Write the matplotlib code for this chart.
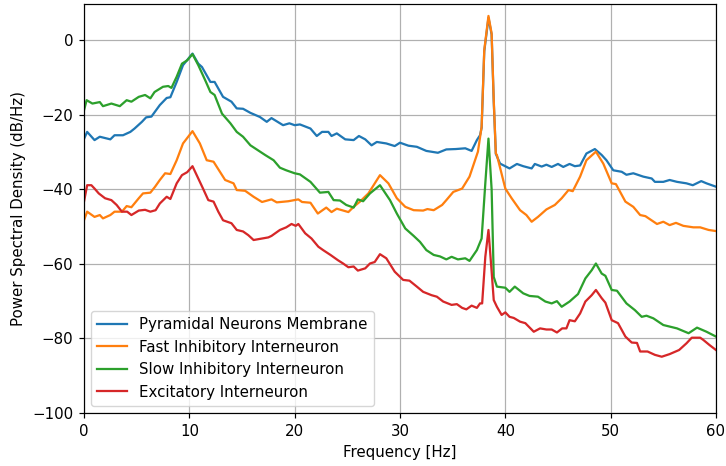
import matplotlib
matplotlib.use("Agg")
import matplotlib.pyplot as plt

# Pyramidal Neurons Membrane
freq_pyr = [0, 0.3, 1.0, 1.5, 2.5, 2.9, 3.7, 4.4, 4.8, 5.5, 5.9, 6.4, 7.2, 7.85, 8.2, 8.8, 9.4, 10.3, 10.85, 11.2,
            12.0, 12.4, 13.2, 14.0, 14.5, 15.1, 15.8, 16.7, 17.35, 17.8, 18.9, 19.5, 20.0, 20.5, 21.5, 22.1, 22.6,
            23.2, 23.5, 24.0, 24.8, 25.6, 26.1, 26.7, 27.3, 27.8, 28.7, 29.5, 30.0, 30.8, 31.6, 32.5, 33.6, 34.4,
            35.3, 36.2, 36.8, 37.3, 37.6, 37.75, 38.0, 38.4, 38.7, 38.9, 39.1, 39.5, 40.4, 41.1, 41.7, 42.5, 42.8,
            43.45, 43.9, 44.4, 45.0, 45.5, 46.1, 46.6, 47.1, 47.7, 48.5, 49.15, 49.6, 50.25, 51.05, 51.5, 52.15,
            53.1, 53.9, 54.2, 55.0, 55.6, 56.3, 57.2, 57.8, 58.6, 59.1, 60]
psd_pyr = [-26.5, -24.6, -26.8, -25.9, -26.6, -25.5, -25.5, -24.6, -23.7, -21.9, -20.7, -20.5, -17.4, -15.5, -15.3,
           -11.2, -6.7, -3.6, -6.3, -7.2, -11.2, -11.2, -15.2, -16.5, -18.3, -18.4, -19.5, -20.6, -21.9, -20.9,
           -22.8, -22.3, -22.8, -22.6, -23.7, -25.7, -24.6, -24.6, -25.7, -25.0, -26.6, -26.8, -25.7, -26.6, -28.2,
           -27.3, -27.7, -28.4, -27.5, -28.3, -28.6, -29.7, -30.2, -29.3, -29.2, -29.0, -29.7, -26.8, -25.5, -23.5,
           -3.0, 6.0, 1.5, -16.5, -30.5, -33.1, -34.4, -33.2, -33.8, -34.4, -33.2, -33.9, -33.4, -34.0, -33.2,
           -34.0, -33.2, -33.8, -33.6, -30.4, -29.2, -30.8, -32.2, -34.9, -35.3, -36.1, -35.7, -36.6, -37.1,
           -38.0, -38.0, -37.5, -38.0, -38.4, -38.9, -37.8, -38.4, -39.3]

# Fast Inhibitory Interneuron
freq_fast = [0, 0.3, 1.0, 1.5, 1.8, 2.5, 2.9, 3.6, 4.05, 4.5, 5.2, 5.6, 6.3, 6.75, 7.2, 7.7, 8.2, 8.8, 9.4, 10.3,
             11.0, 11.65, 12.3, 13.4, 14.2, 14.5, 15.3, 16.1, 16.9, 17.8, 18.3, 19.4, 20.35, 20.7, 21.5, 22.2,
             23.0, 23.5, 24.0, 25.1, 25.6, 26.2, 27.0, 28.1, 28.9, 29.7, 30.5, 31.3, 32.2, 32.6, 33.2, 34.0, 34.4,
             35.06, 35.9, 36.6, 37.4, 37.75, 38.0, 38.4, 38.7, 38.9, 39.1, 39.2, 40.0, 40.6, 41.4, 42.0, 42.5,
             43.1, 43.9, 44.7, 45.35, 46.0, 46.4, 47.1, 47.7, 48.6, 49.3, 50.1, 50.5, 51.4, 52.15, 52.8, 53.3,
             54.4, 55.0, 55.6, 56.2, 56.9, 57.85, 58.5, 59.3, 60]
psd_fast = [-48.3, -46.0, -47.4, -46.9, -47.8, -46.9, -46.0, -46.0, -44.5, -44.8, -42.4, -41.1, -40.9, -39.3, -37.5,
            -35.7, -35.9, -32.2, -27.7, -24.4, -27.7, -32.2, -32.6, -37.5, -38.4, -40.2, -40.4, -42.0, -43.4, -42.7,
            -43.5, -43.2, -42.7, -43.4, -43.6, -46.5, -44.9, -46.1, -45.2, -46.1, -44.7, -43.3, -41.1, -36.2, -38.4,
            -42.4, -44.7, -45.6, -45.7, -45.3, -45.6, -44.2, -42.9, -40.7, -39.8, -36.6, -29.9, -23.2, -2.7, 6.5,
            1.8, -16.0, -30.4, -30.8, -39.8, -42.4, -45.6, -46.9, -48.7, -47.4, -45.4, -44.2, -42.4, -40.2, -40.5,
            -36.6, -32.2, -29.9, -33.1, -38.4, -38.6, -43.3, -44.7, -46.9, -47.2, -49.3, -48.7, -49.6, -49.0,
            -49.8, -50.2, -50.2, -50.9, -51.2]

# Slow Inhibitory Interneuron
freq_slow = [0, 0.25, 0.8, 1.5, 1.8, 2.6, 3.4, 4.05, 4.5, 5.2, 5.8, 6.3, 6.7, 7.5, 8.0, 8.3, 8.8, 9.3, 9.8, 10.3,
             10.85, 11.5, 12.0, 12.4, 13.1, 13.9, 14.5, 15.1, 15.8, 16.5, 17.2, 18.0, 18.6, 19.2, 20.0, 20.5, 21.5,
             22.4, 23.2, 23.7, 24.3, 24.9, 25.6, 26.0, 26.5, 27.15, 28.1, 29.05, 29.7, 30.5, 31.3, 31.9, 32.5,
             33.2, 33.8, 34.4, 34.9, 35.5, 36.2, 36.6, 37.3, 37.75, 38.1, 38.4, 38.7, 38.9, 39.2, 40.0, 40.4, 40.9,
             41.7, 42.3, 43.1, 43.8, 44.4, 44.9, 45.35, 46.1, 46.9, 47.6, 48.2, 48.6, 49.15, 49.5, 50.1, 50.6,
             51.5, 52.3, 52.95, 53.4, 54.05, 55.0, 56.3, 57.4, 58.2, 59.1, 60]
psd_slow = [-18.8, -16.1, -17.0, -16.6, -17.7, -17.0, -17.7, -16.1, -16.5, -15.2, -14.7, -15.6, -13.9, -12.5, -12.3,
            -12.8, -9.8, -6.3, -5.4, -3.75, -6.7, -10.7, -13.9, -14.7, -19.7, -22.3, -24.6, -25.9, -28.2, -29.5,
            -30.8, -32.2, -34.2, -34.9, -35.7, -36.0, -38.0, -40.9, -40.7, -42.9, -43.0, -44.2, -44.9, -42.7, -43.2,
            -41.1, -38.9, -42.9, -46.5, -50.5, -52.5, -54.1, -56.3, -57.6, -58.0, -58.8, -58.1, -58.8, -58.5,
            -59.2, -56.3, -53.2, -38.4, -26.4, -40.0, -63.5, -66.1, -66.4, -67.5, -66.1, -67.9, -68.6, -68.8,
            -70.1, -70.6, -70.0, -71.5, -70.1, -68.1, -63.9, -61.7, -59.9, -62.6, -63.2, -67.0, -67.2, -70.6,
            -72.4, -74.2, -73.9, -74.6, -76.4, -77.3, -78.6, -77.1, -78.2, -79.5]

# Excitatory Interneuron
freq_exc = [0, 0.3, 0.7, 1.0, 1.4, 2.0, 2.6, 3.1, 3.6, 4.1, 4.5, 5.2, 5.8, 6.3, 6.8, 7.2, 7.85, 8.2, 8.8, 9.3, 9.8,
            10.3, 10.85, 11.3, 11.8, 12.3, 12.75, 13.2, 14.0, 14.5, 15.1, 15.6, 16.1, 16.9, 17.5, 17.8, 18.6, 19.2,
            19.7, 20.1, 20.35, 21.0, 21.6, 22.25, 22.7, 23.4, 24.1, 24.6, 25.1, 25.6, 26.0, 26.7, 27.15, 27.6,
            28.1, 28.7, 29.5, 30.3, 30.9, 31.6, 32.2, 33.0, 33.5, 34.1, 34.9, 35.4, 35.9, 36.3, 36.8, 37.3, 37.6,
            37.8, 38.1, 38.4, 38.7, 38.9, 39.2, 39.65, 40.0, 40.4, 40.8, 41.4, 41.9, 42.7, 43.3, 43.9, 44.4, 44.9,
            45.4, 45.8, 46.1, 46.6, 47.1, 47.6, 48.2, 48.6, 49.15, 49.5, 50.1, 50.7, 51.4, 52.0, 52.5, 52.8, 53.5,
            54.2, 54.85, 55.6, 56.5, 57.2, 57.7, 58.5, 58.8, 59.4, 60]
psd_exc = [-43.3, -38.9, -38.9, -39.8, -41.1, -42.4, -42.9, -44.2, -46.0, -46.0, -46.9, -45.7, -45.5, -46.0, -45.6,
           -43.8, -42.0, -42.6, -38.4, -36.2, -35.4, -33.8, -37.1, -39.8, -42.9, -43.3, -46.0, -48.3, -49.1, -50.9,
           -51.3, -52.3, -53.6, -53.2, -52.9, -52.5, -50.9, -50.2, -49.3, -49.8, -49.3, -51.8, -53.2, -55.4, -56.3,
           -57.6, -59.0, -59.9, -60.9, -60.7, -61.8, -61.2, -59.9, -59.5, -57.4, -58.5, -62.1, -64.3, -64.5, -66.1,
           -67.5, -68.4, -68.8, -70.1, -71.0, -70.8, -71.8, -72.2, -71.2, -71.8, -70.6, -70.6, -58.1, -50.9, -62.0,
           -69.7, -71.5, -73.7, -73.0, -74.2, -74.5, -75.5, -75.9, -78.2, -77.3, -77.6, -77.6, -78.4, -77.3, -77.3,
           -75.1, -75.4, -73.3, -70.1, -68.4, -67.0, -69.2, -70.4, -75.1, -75.9, -79.5, -81.1, -81.2, -83.5, -83.5,
           -84.4, -84.9, -84.2, -83.1, -81.3, -79.8, -79.8, -80.4, -81.8, -83.1]

series = [
    ("Pyramidal Neurons Membrane", freq_pyr, psd_pyr, "#1f77b4"),
    ("Fast Inhibitory Interneuron", freq_fast, psd_fast, "#ff7f0e"),
    ("Slow Inhibitory Interneuron", freq_slow, psd_slow, "#2ca02c"),
    ("Excitatory Interneuron", freq_exc, psd_exc, "#d62728"),
]

s = 1.08
plt.rcParams.update({
    "font.size": 10 * s,
    "axes.linewidth": 0.8 * s,
    "xtick.major.size": 3.5 * s,
    "ytick.major.size": 3.5 * s,
    "xtick.major.width": 0.8 * s,
    "ytick.major.width": 0.8 * s,
    "xtick.major.pad": 3.5 * s,
    "ytick.major.pad": 3.5 * s,
    "axes.labelpad": 4.0 * s,
})

fig = plt.figure(figsize=(7.26, 4.66), dpi=100)
ax = fig.add_axes([0.1157, 0.1137, 0.8705, 0.8777])
for label, fx, py, c in series:
    ax.plot(fx, py, color=c, lw=1.5 * s, label=label)

ax.set_xlim(0, 60)
ax.set_ylim(-100, 9.7)
ax.set_xticks([0, 10, 20, 30, 40, 50, 60])
ax.set_yticks([-100, -80, -60, -40, -20, 0])
ax.grid(True, color="#b0b0b0", lw=0.8 * s)
ax.set_xlabel("Frequency [Hz]")
ax.set_ylabel("Power Spectral Density (dB/Hz)")
ax.legend(loc="lower left")

fig.savefig("out.png", dpi=100)
